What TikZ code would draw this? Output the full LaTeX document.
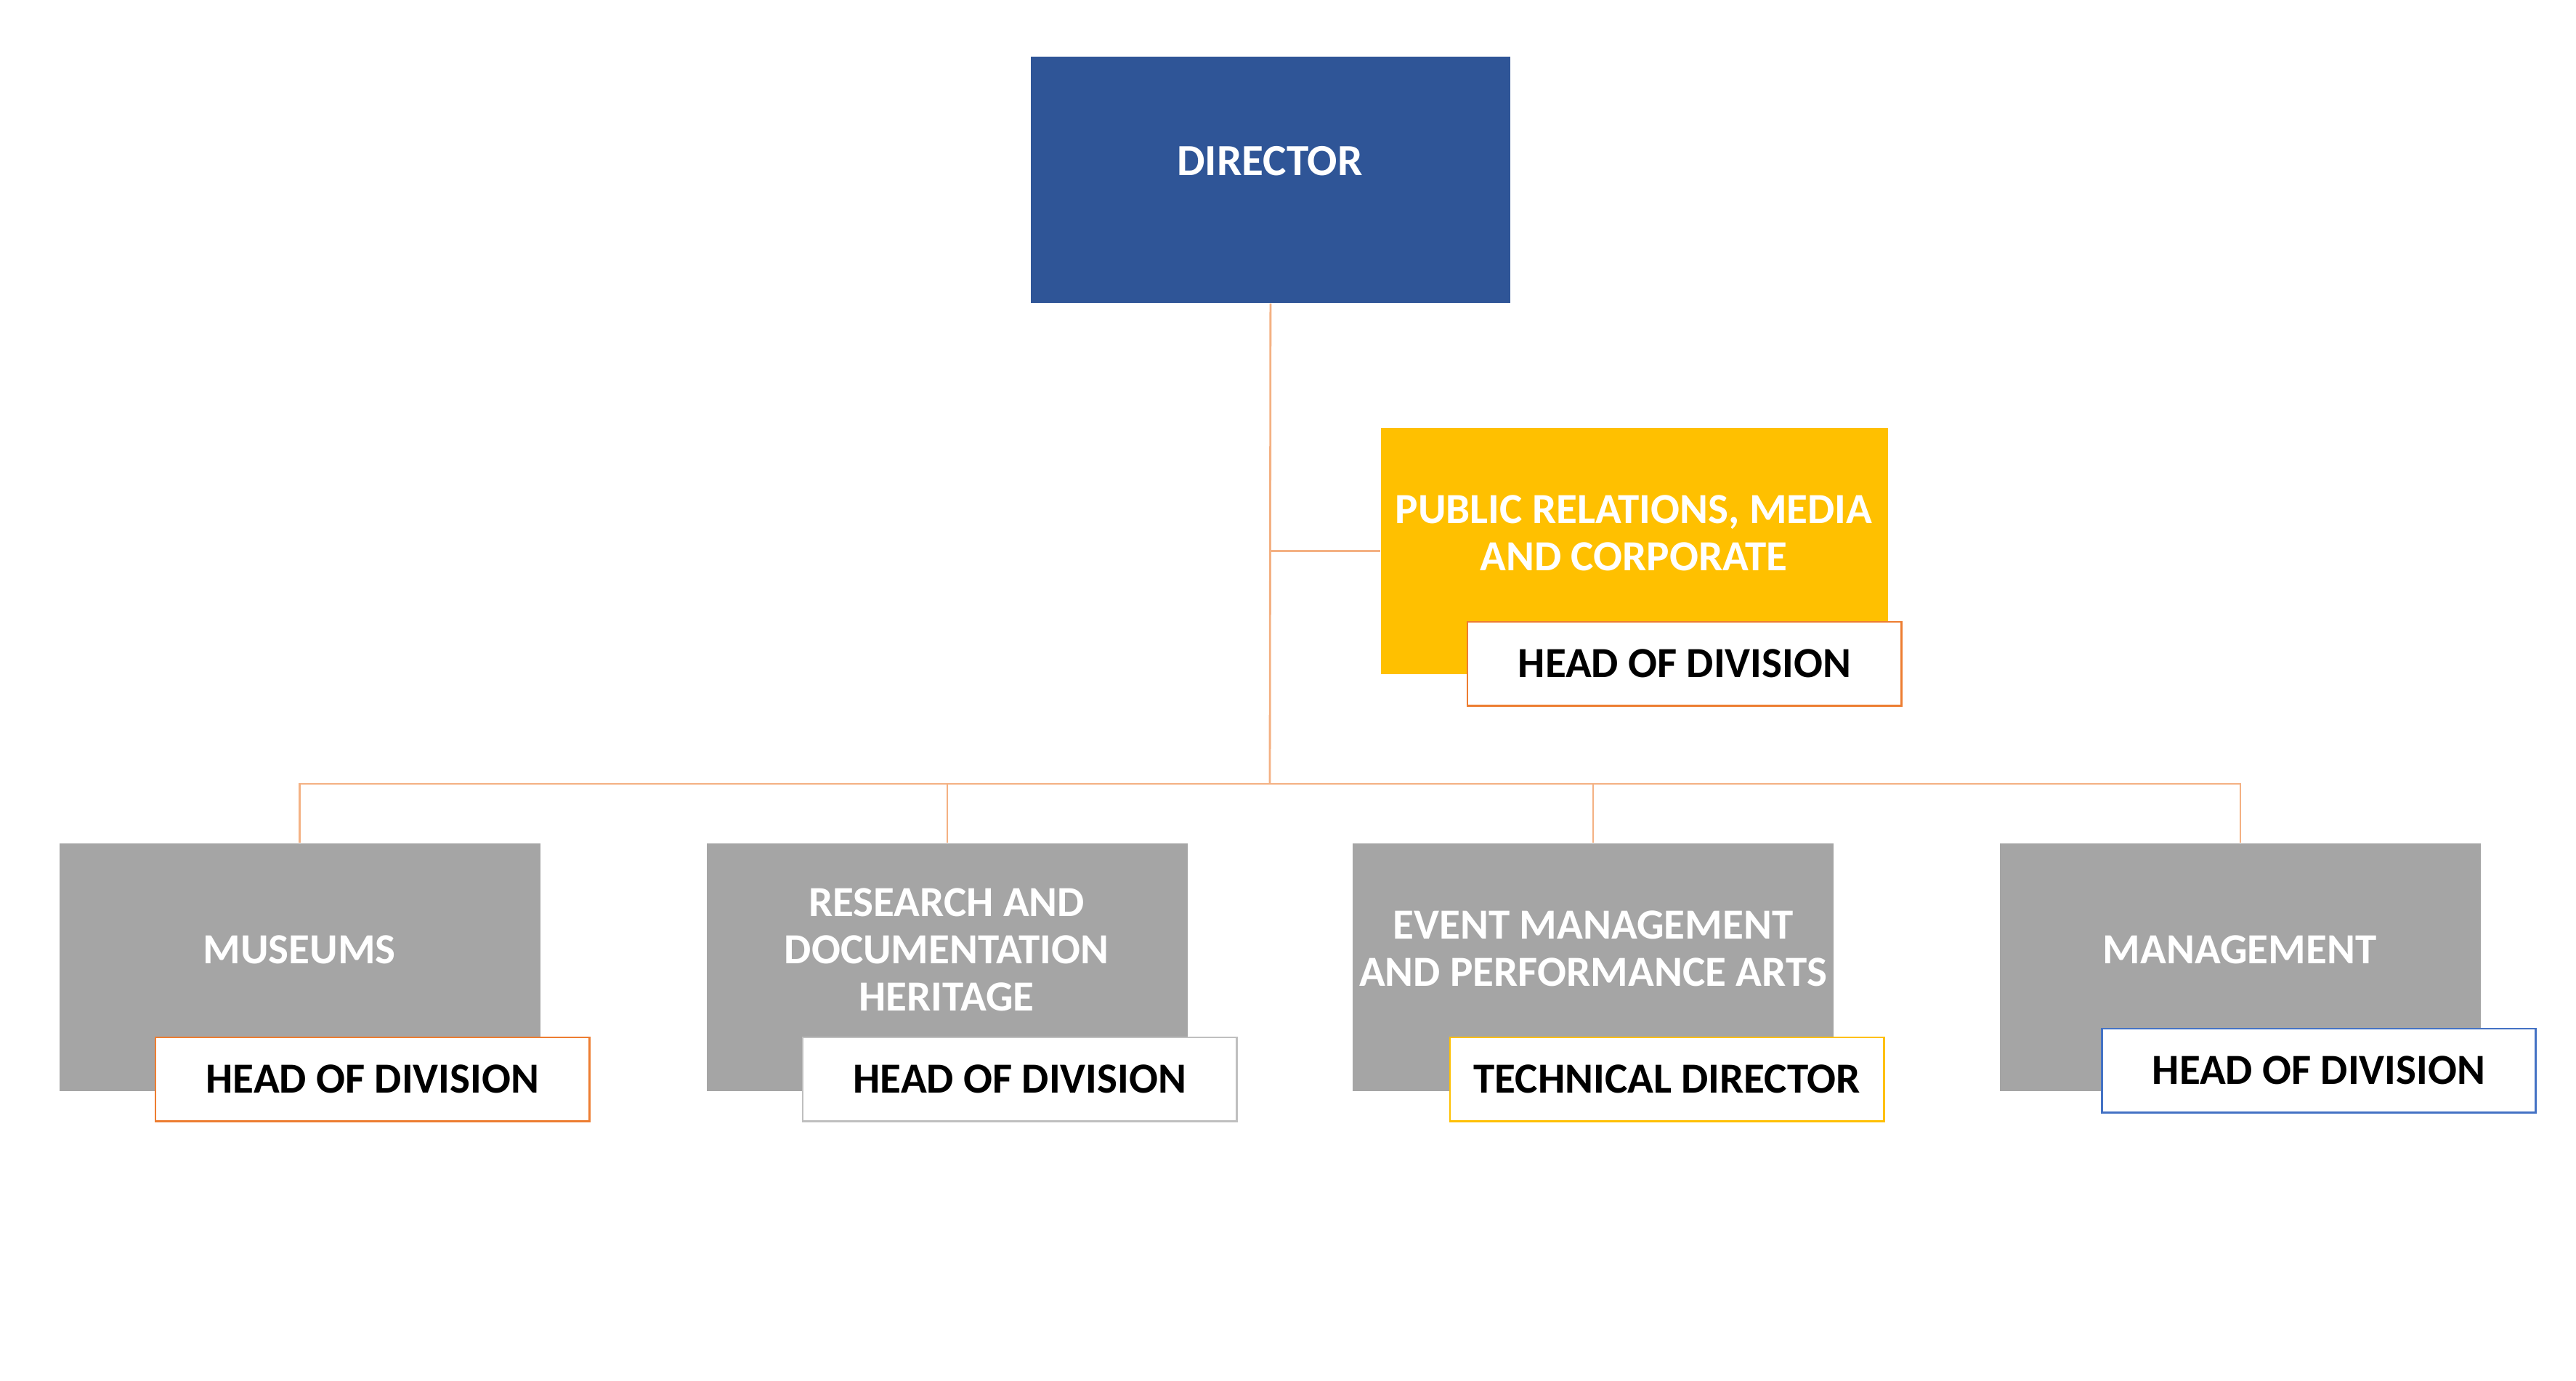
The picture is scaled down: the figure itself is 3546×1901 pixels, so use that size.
\documentclass[tikz,border=0pt]{standalone}
\usepackage{fontspec}
\setmainfont{Carlito}
\definecolor{dirblue}{HTML}{2F5597}
\definecolor{gold}{HTML}{FFC000}
\definecolor{grayfill}{HTML}{A5A5A5}
\definecolor{conncol}{HTML}{F4B183}
\definecolor{orangeb}{HTML}{ED7D31}
\definecolor{grayb}{HTML}{BFBFBF}
\definecolor{blueb}{HTML}{4472C4}
\begin{document}
\begin{tikzpicture}[x=0.01cm,y=-0.01cm,
  conn/.style={draw=conncol,line width=0.8pt},
  bigbox/.style={anchor=north west,inner sep=0pt,minimum width=6.62cm,minimum height=3.41cm},
  headbox/.style={anchor=north west,inner sep=0pt,fill=white,line width=0.7pt,minimum width=5.97cm,minimum height=1.15cm,font=\fontsize{16.8}{18.5}\selectfont\bfseries,text=black},
  wtext/.style={text=white,font=\fontsize{16.8}{18.5}\selectfont\bfseries,align=center,inner sep=0pt}
]
\useasboundingbox (0,0) rectangle (3546,1901);
% boxes
\node[bigbox,fill=dirblue,minimum width=6.60cm,minimum height=3.39cm] (dir) at (1418,77) {};
\node[wtext,font=\fontsize{17.4}{18.5}\selectfont\bfseries] (dirT) at (1748,222) {DIRECTOR};
\node[bigbox,fill=gold,minimum width=6.98cm,minimum height=3.39cm] (pr) at (1900,588) {};
\node[wtext] (prT) at (2249,734) {PUBLIC RELATIONS, MEDIA\\AND CORPORATE};
\node[headbox,draw=orangeb] (prH) at (2019,855) {HEAD OF DIVISION};
\coordinate (hub) at (1748,1079);
\node[bigbox,fill=grayfill] (mus) at (81,1160) {};
\node[bigbox,fill=grayfill] (res) at (972,1160) {};
\node[bigbox,fill=grayfill] (evt) at (1861,1160) {};
\node[bigbox,fill=grayfill] (man) at (2752,1160) {};
% connectors
\draw[conn] (dir.south) -- (hub);
\draw[conn] (dir.south |- pr.west) -- (pr.west);
\draw[conn] (hub) -| (mus.north);
\draw[conn] (hub) -| (res.north);
\draw[conn] (hub) -| (evt.north);
\draw[conn] (hub) -| (man.north);
% texts
\node[wtext] (musT) at (412,1307) {MUSEUMS};
\node[wtext] (resT) at (1303,1307) {RESEARCH AND\\DOCUMENTATION\\HERITAGE};
\node[wtext] (evtT) at (2193,1306) {EVENT MANAGEMENT\\AND PERFORMANCE ARTS};
\node[wtext] (manT) at (3083,1307) {MANAGEMENT};
% head boxes
\node[headbox,draw=orangeb] (musH) at (213,1427) {HEAD OF DIVISION};
\node[headbox,draw=grayb] (resH) at (1104,1427) {HEAD OF DIVISION};
\node[headbox,draw=gold] (evtH) at (1995,1427) {TECHNICAL DIRECTOR};
\node[headbox,draw=blueb] (manH) at (2892,1415) {HEAD OF DIVISION};
\end{tikzpicture}
\end{document}
